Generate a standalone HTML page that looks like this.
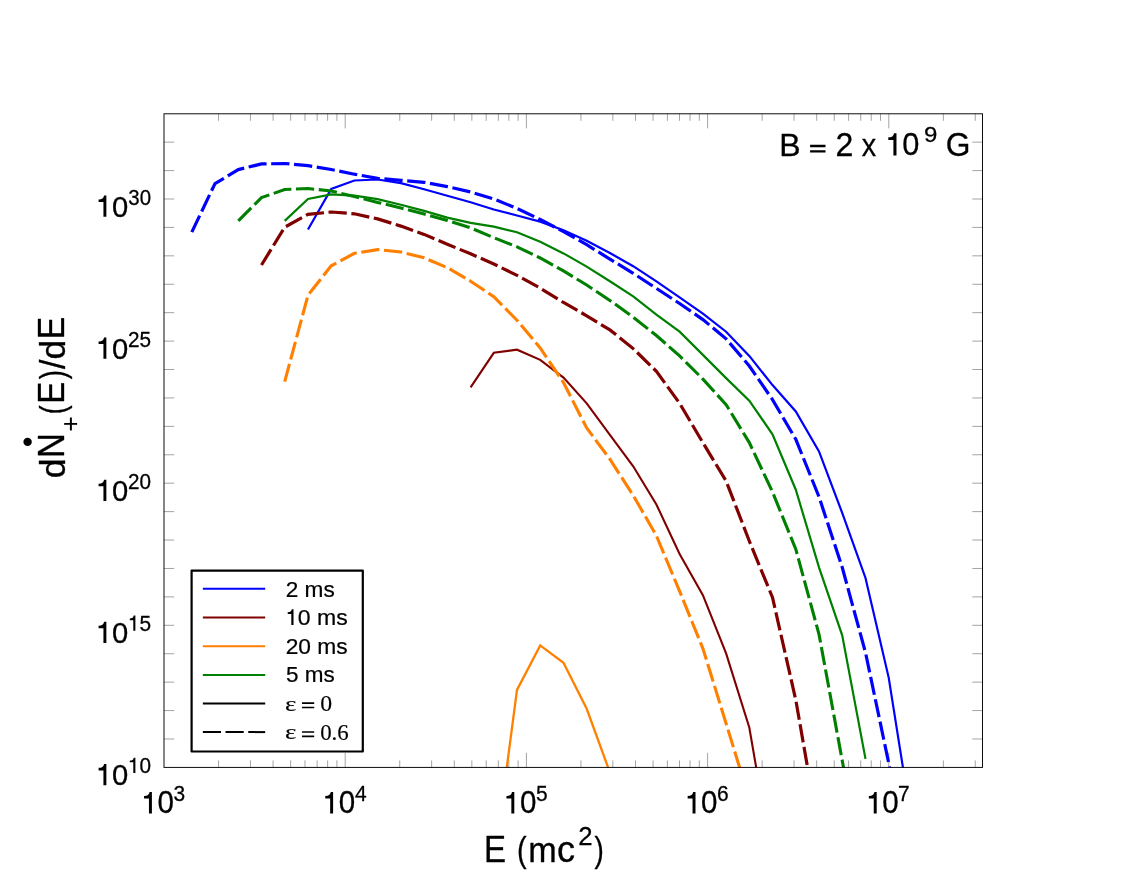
<!DOCTYPE html>
<html lang="en"><head><meta charset="utf-8"><title>dN/dE spectrum</title>
<style>html,body{margin:0;padding:0;background:#fff;overflow:hidden}svg{display:block;will-change:transform}text{font-family:"Liberation Sans",sans-serif;fill:#000}.se{font-family:"Liberation Serif",serif}</style></head><body>
<svg width="1144" height="883" viewBox="0 0 1144 883">
<rect x="0" y="0" width="1144" height="883" fill="#fff"/>
<defs><clipPath id="cp"><rect x="164.0" y="113.8" width="818.5" height="653.6"/></clipPath></defs>
<path d="M218.55 767.4v-7.0M218.55 113.8v7.0M250.45 767.4v-7.0M250.45 113.8v7.0M273.09 767.4v-7.0M273.09 113.8v7.0M290.65 767.4v-7.0M290.65 113.8v7.0M305.00 767.4v-7.0M305.00 113.8v7.0M317.13 767.4v-7.0M317.13 113.8v7.0M327.64 767.4v-7.0M327.64 113.8v7.0M336.91 767.4v-7.0M336.91 113.8v7.0M345.20 767.4v-14.6M345.20 113.8v14.6M399.75 767.4v-7.0M399.75 113.8v7.0M431.65 767.4v-7.0M431.65 113.8v7.0M454.29 767.4v-7.0M454.29 113.8v7.0M471.85 767.4v-7.0M471.85 113.8v7.0M486.20 767.4v-7.0M486.20 113.8v7.0M498.33 767.4v-7.0M498.33 113.8v7.0M508.84 767.4v-7.0M508.84 113.8v7.0M518.11 767.4v-7.0M518.11 113.8v7.0M526.40 767.4v-14.6M526.40 113.8v14.6M580.95 767.4v-7.0M580.95 113.8v7.0M612.85 767.4v-7.0M612.85 113.8v7.0M635.49 767.4v-7.0M635.49 113.8v7.0M653.05 767.4v-7.0M653.05 113.8v7.0M667.40 767.4v-7.0M667.40 113.8v7.0M679.53 767.4v-7.0M679.53 113.8v7.0M690.04 767.4v-7.0M690.04 113.8v7.0M699.31 767.4v-7.0M699.31 113.8v7.0M707.60 767.4v-14.6M707.60 113.8v14.6M762.15 767.4v-7.0M762.15 113.8v7.0M794.05 767.4v-7.0M794.05 113.8v7.0M816.69 767.4v-7.0M816.69 113.8v7.0M834.25 767.4v-7.0M834.25 113.8v7.0M848.60 767.4v-7.0M848.60 113.8v7.0M860.73 767.4v-7.0M860.73 113.8v7.0M871.24 767.4v-7.0M871.24 113.8v7.0M880.51 767.4v-7.0M880.51 113.8v7.0M888.80 767.4v-14.6M888.80 113.8v14.6M943.35 767.4v-7.0M943.35 113.8v7.0M975.25 767.4v-7.0M975.25 113.8v7.0M164.0 738.98h10.2M982.5 738.98h-10.2M164.0 710.56h10.2M982.5 710.56h-10.2M164.0 682.14h10.2M982.5 682.14h-10.2M164.0 653.72h10.2M982.5 653.72h-10.2M164.0 625.30h10.2M982.5 625.30h-10.2M164.0 596.88h10.2M982.5 596.88h-10.2M164.0 568.46h10.2M982.5 568.46h-10.2M164.0 540.04h10.2M982.5 540.04h-10.2M164.0 511.62h10.2M982.5 511.62h-10.2M164.0 483.20h10.2M982.5 483.20h-10.2M164.0 454.78h10.2M982.5 454.78h-10.2M164.0 426.36h10.2M982.5 426.36h-10.2M164.0 397.94h10.2M982.5 397.94h-10.2M164.0 369.52h10.2M982.5 369.52h-10.2M164.0 341.10h10.2M982.5 341.10h-10.2M164.0 312.68h10.2M982.5 312.68h-10.2M164.0 284.26h10.2M982.5 284.26h-10.2M164.0 255.84h10.2M982.5 255.84h-10.2M164.0 227.42h10.2M982.5 227.42h-10.2M164.0 199.00h10.2M982.5 199.00h-10.2M164.0 170.58h10.2M982.5 170.58h-10.2M164.0 142.16h10.2M982.5 142.16h-10.2" fill="none" stroke="#000" stroke-width="0.5" stroke-opacity="0.72"/>
<g clip-path="url(#cp)" fill="none" stroke-linejoin="miter" stroke-miterlimit="6">
<polyline points="308.0,229.5 331.2,189.0 354.4,180.5 377.6,179.5 400.9,183.2 424.1,189.2 447.3,195.8 470.6,202.2 493.8,209.5 517.0,215.5 540.2,221.6 563.5,230.2 586.7,240.7 609.9,253.0 633.2,266.2 656.4,281.3 679.6,297.4 702.9,313.6 726.1,331.7 749.3,355.9 772.5,385.1 795.8,411.5 819.0,451.4 842.2,512.9 865.5,578.0 888.7,677.6 911.9,824.0" stroke="#0000ff" stroke-width="2.2"/>
<polyline points="470.6,387.3 493.8,352.8 517.0,349.7 540.2,359.9 563.5,377.6 586.7,403.4 609.9,434.8 633.2,466.3 656.4,504.5 679.6,553.9 702.9,595.2 726.1,653.4 749.3,727.5 772.5,862.0" stroke="#800000" stroke-width="2.1"/>
<polyline points="493.8,866.0 517.0,689.9 540.2,645.4 563.5,662.8 586.7,708.8 609.9,772.4" stroke="#ff8000" stroke-width="2.3"/>
<polyline points="284.7,220.9 308.0,198.9 331.2,194.4 354.4,195.7 377.6,199.2 400.9,204.8 424.1,210.9 447.3,217.6 470.6,222.9 493.8,226.6 517.0,232.2 540.2,241.8 563.5,253.4 586.7,266.6 609.9,281.2 633.2,296.4 656.4,314.6 679.6,331.7 702.9,354.9 726.1,378.1 749.3,400.6 772.5,434.3 795.8,489.7 819.0,567.3 842.2,635.3 865.5,758.9" stroke="#008000" stroke-width="2.2"/>
<polyline points="191.8,232.1 215.0,183.6 238.3,169.6 261.5,163.9 284.7,163.5 308.0,165.7 331.2,169.5 354.4,174.2 377.6,178.3 400.9,180.3 424.1,182.3 447.3,186.6 470.6,192.0 493.8,199.0 517.0,208.5 540.2,219.5 563.5,231.6 586.7,244.7 609.9,259.1 633.2,273.3 656.4,288.4 679.6,303.5 702.9,319.6 726.1,338.8 749.3,366.0 772.5,399.6 795.8,439.3 819.0,496.8 842.2,567.3 865.5,652.5 888.7,763.0 911.9,875.0" stroke="#0000ff" stroke-width="3.2" stroke-dasharray="18.3 4.6"/>
<polyline points="261.5,265.0 284.7,227.2 308.0,214.3 331.2,212.0 354.4,213.8 377.6,218.9 400.9,226.1 424.1,234.4 447.3,244.3 470.6,253.8 493.8,264.0 517.0,275.3 540.2,288.1 563.5,302.5 586.7,315.8 609.9,329.9 633.2,348.6 656.4,371.3 679.6,403.3 702.9,442.7 726.1,481.0 749.3,541.0 772.5,597.5 795.8,700.0 819.0,833.0" stroke="#800000" stroke-width="3.2" stroke-dasharray="18.3 4.6"/>
<polyline points="284.7,381.6 308.0,295.2 331.2,265.8 354.4,253.3 377.6,249.6 400.9,252.0 424.1,257.8 447.3,267.6 470.6,281.2 493.8,296.7 517.0,320.2 540.2,348.0 563.5,382.6 586.7,428.0 609.9,459.2 633.2,495.4 656.4,535.7 679.6,591.2 702.9,648.5 726.1,723.5 749.3,799.0" stroke="#ff8000" stroke-width="3.1" stroke-dasharray="18.3 4.6"/>
<polyline points="238.3,220.9 261.5,197.6 284.7,189.5 308.0,188.5 331.2,191.0 354.4,196.5 377.6,202.4 400.9,208.0 424.1,214.0 447.3,220.4 470.6,227.8 493.8,237.7 517.0,246.8 540.2,258.0 563.5,270.9 586.7,285.0 609.9,300.4 633.2,317.3 656.4,335.5 679.6,355.9 702.9,379.1 726.1,404.6 749.3,442.6 772.5,492.0 795.8,549.2 819.0,634.3 842.2,760.4 865.5,885.0" stroke="#008000" stroke-width="3.1" stroke-dasharray="18.3 4.6"/>
</g>
<rect x="164.0" y="113.8" width="818.5" height="653.6" fill="none" stroke="#000" stroke-width="0.95"/>
<g stroke="#000" stroke-width="0.28" stroke-linejoin="round">
<path d="M151.90 813.50V792.00H149.60Q148.90 796.10 144.05 796.00V798.60H148.95V813.50Z" fill="#000" stroke="none"/><text transform="translate(157.51,813.31) scale(0.9699,1)" font-size="30.49">0</text>
<text transform="translate(173.56,801.10) scale(0.9600,1)" font-size="21.80">3</text>
<path d="M333.10 813.50V792.00H330.80Q330.10 796.10 325.25 796.00V798.60H330.15V813.50Z" fill="#000" stroke="none"/><text transform="translate(338.71,813.31) scale(0.9699,1)" font-size="30.49">0</text>
<text transform="translate(355.07,801.10) scale(0.9600,1)" font-size="21.80">4</text>
<path d="M514.30 813.50V792.00H512.00Q511.30 796.10 506.45 796.00V798.60H511.35V813.50Z" fill="#000" stroke="none"/><text transform="translate(519.91,813.31) scale(0.9699,1)" font-size="30.49">0</text>
<text transform="translate(535.90,801.10) scale(0.9600,1)" font-size="21.80">5</text>
<path d="M695.50 813.50V792.00H693.20Q692.50 796.10 687.65 796.00V798.60H692.55V813.50Z" fill="#000" stroke="none"/><text transform="translate(701.11,813.31) scale(0.9699,1)" font-size="30.49">0</text>
<text transform="translate(716.89,801.10) scale(0.9600,1)" font-size="21.80">6</text>
<path d="M876.70 813.50V792.00H874.40Q873.70 796.10 868.85 796.00V798.60H873.75V813.50Z" fill="#000" stroke="none"/><text transform="translate(882.31,813.31) scale(0.9699,1)" font-size="30.49">0</text>
<text transform="translate(898.09,801.10) scale(0.9600,1)" font-size="21.80">7</text>
<path d="M106.36 785.15V763.90H104.09Q103.39 767.95 98.60 767.85V770.42H103.44V785.15Z" fill="#000" stroke="none"/><text transform="translate(111.90,784.96) scale(0.9697,1)" font-size="30.13">0</text>
<path d="M135.39 772.95V757.65H133.75Q133.25 760.57 129.80 760.50V762.35H133.29V772.95Z" fill="#000" stroke="none"/>
<text transform="translate(139.51,772.90) scale(0.9530,1)" font-size="21.80">0</text>
<path d="M106.36 643.05V621.80H104.09Q103.39 625.85 98.60 625.75V628.32H103.44V643.05Z" fill="#000" stroke="none"/><text transform="translate(111.90,642.86) scale(0.9697,1)" font-size="30.13">0</text>
<path d="M135.39 630.85V615.55H133.75Q133.25 618.47 129.80 618.40V620.25H133.29V630.85Z" fill="#000" stroke="none"/>
<text transform="translate(139.50,630.80) scale(0.9580,1)" font-size="21.80">5</text>
<path d="M106.36 500.95V479.70H104.09Q103.39 483.75 98.60 483.65V486.22H103.44V500.95Z" fill="#000" stroke="none"/><text transform="translate(111.90,500.76) scale(0.9697,1)" font-size="30.13">0</text>
<text transform="translate(128.05,488.70) scale(0.9497,1)" font-size="21.80">20</text>
<path d="M106.36 358.85V337.60H104.09Q103.39 341.65 98.60 341.55V344.12H103.44V358.85Z" fill="#000" stroke="none"/><text transform="translate(111.90,358.66) scale(0.9697,1)" font-size="30.13">0</text>
<text transform="translate(128.05,346.60) scale(0.9521,1)" font-size="21.80">25</text>
<path d="M106.36 216.75V195.50H104.09Q103.39 199.55 98.60 199.45V202.02H103.44V216.75Z" fill="#000" stroke="none"/><text transform="translate(111.90,216.56) scale(0.9697,1)" font-size="30.13">0</text>
<text transform="translate(128.32,204.50) scale(0.9383,1)" font-size="21.80">30</text>
<text transform="translate(483.91,861.86) scale(1.1011,1.2325)" font-size="30">E</text>
<text transform="translate(517.04,861.80) scale(0.9585,1.1982)" font-size="30">(</text>
<text transform="translate(528.23,861.86) scale(1.1390,1.1857)" font-size="30">m</text>
<text transform="translate(557.01,861.90) scale(1.2031,1.2067)" font-size="30">c</text>
<text transform="translate(578.25,845.06) scale(1.0082,1)" font-size="25.55">2</text>
<text transform="translate(594.43,861.80) scale(0.9333,1.1982)" font-size="30">)</text>
<g transform="translate(64.6,476.8) rotate(-90)">
<text transform="translate(-1.37,0.31) scale(1.1867,1.1755)" font-size="30">d</text>
<text transform="translate(18.80,-0.14) scale(1.1492,1.2179)" font-size="30">N</text>
<text transform="translate(45.21,14.83) scale(0.8629,0.8653)" font-size="30">+</text>
<text transform="translate(62.48,-0.07) scale(0.8830,1.1768)" font-size="30">(</text>
<text transform="translate(73.11,-0.14) scale(1.1011,1.2179)" font-size="30">E</text>
<text transform="translate(97.43,-0.07) scale(0.9208,1.1768)" font-size="30">)</text>
<text transform="translate(107.84,0.20) scale(1.1315,1.1846)" font-size="30">/</text>
<text transform="translate(117.25,0.31) scale(1.1719,1.1755)" font-size="30">d</text>
<text transform="translate(137.46,-0.14) scale(1.1226,1.2179)" font-size="30">E</text>
</g>
<circle cx="27.6" cy="441.9" r="4.2" fill="#000" stroke="none"/>
<text transform="translate(779.20,155.50) scale(0.9898,1)" font-size="32.29">B</text>
<path d="M810.1 146.0H825.5M810.1 151.3H825.5" stroke-width="2.3" fill="none"/>
<text transform="translate(835.53,155.50) scale(0.9951,1)" font-size="32.29">2</text>
<text transform="translate(861.78,155.50) scale(0.8945,1)" font-size="32.29">x</text>
<path d="M896.48 155.60V133.20H894.08Q893.35 137.47 888.30 137.37V140.08H893.41V155.60Z" fill="#000" stroke="none"/><text transform="translate(902.31,155.39) scale(0.9708,1)" font-size="31.76">0</text>
<text transform="translate(924.00,141.53) scale(1.0487,1)" font-size="22.93">9</text>
<text transform="translate(945.65,155.70) scale(0.9834,1)" font-size="32.29">G</text>
</g>
<rect x="191.6" y="570.6" width="171.2" height="180.9" fill="#fff" stroke="#000" stroke-width="2.2" stroke-linejoin="round"/>
<path d="M202.85 588.8H265.2" stroke="#0000ff" stroke-width="2.0" fill="none"/>
<path d="M202.85 617.6H265.2" stroke="#800000" stroke-width="2.0" fill="none"/>
<path d="M202.85 646.3H265.2" stroke="#ff8000" stroke-width="2.0" fill="none"/>
<path d="M202.85 674.9H265.2" stroke="#008000" stroke-width="2.0" fill="none"/>
<path d="M202.85 703.6H265.2" stroke="#000" stroke-width="2.0" fill="none"/>
<path d="M202.85 732.1H265.2" stroke="#000" stroke-width="2.0" fill="none" stroke-dasharray="18.16 4.54"/>
<g stroke="#000" stroke-width="0.22" stroke-linejoin="round">
<text transform="translate(285.71,596.70) scale(0.9881,1)" font-size="22.90">2 ms</text>
<path d="M293.51 625.10V609.20H291.80Q291.29 612.23 287.70 612.16V614.08H291.32V625.10Z" fill="#000" stroke="none"/>
<text transform="translate(297.82,625.20) scale(1.0063,1)" font-size="22.90">0 ms</text>
<text transform="translate(285.70,653.80) scale(0.9954,1)" font-size="22.90">20 ms</text>
<text transform="translate(285.94,682.40) scale(0.9833,1)" font-size="22.90">5 ms</text>
</g>
<g stroke="#000" stroke-width="0.15" stroke-linejoin="round">
<text class="se" transform="translate(285.12,710.55) scale(1.2853,1)" font-size="21.08">ε</text>
<path d="M302.0 703.2H314.2M302.0 707.5H314.2" stroke-width="1.7" fill="none"/>
<text class="se" transform="translate(320.15,710.90) scale(1.0353,1)" font-size="23.00">0</text>
<text class="se" transform="translate(285.12,739.35) scale(1.2853,1)" font-size="21.08">ε</text>
<path d="M302.0 732.0H314.2M302.0 736.3H314.2" stroke-width="1.7" fill="none"/>
<text class="se" transform="translate(320.18,739.70) scale(0.9935,1)" font-size="23.00">0.6</text>
</g>
</svg></body></html>
